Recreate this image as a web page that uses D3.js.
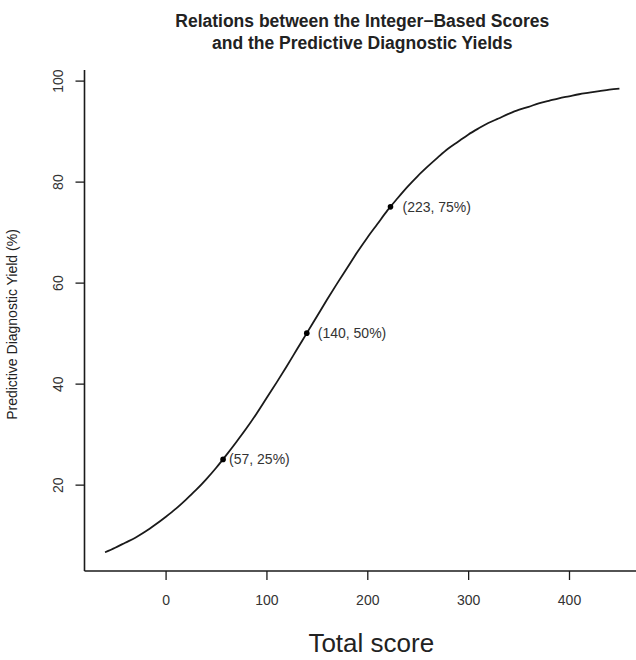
<!DOCTYPE html>
<html>
<head>
<meta charset="utf-8">
<script src="https://cdn.jsdelivr.net/npm/d3@7"></script>
<style>
  html, body { margin: 0; padding: 0; background: #fff; }
  svg { display: block; font-family: "Liberation Sans", Arial, Helvetica, sans-serif; }
</style>
</head>
<body>
<div id="chart"></div>
<script>
// ---- Data ----
const curveScores = [-60,-50,-40,-30,-20,-10,0,10,20,30,40,50,60,70,80,90,100,110,120,130,140,150,160,170,180,190,200,210,220,230,240,250,260,270,280,290,300,310,320,330,340,350,360,370,380,390,400,410,420,430,440,450];
const curveYields = [6.6,7.5,8.5,9.5,10.7,12.1,13.6,15.2,17.0,18.9,21.0,23.3,25.8,28.4,31.1,34.0,37.1,40.2,43.4,46.7,50.0,53.3,56.6,59.8,62.9,66.0,68.9,71.6,74.3,76.7,79.0,81.1,83.0,84.8,86.5,87.9,89.3,90.5,91.6,92.5,93.4,94.2,94.8,95.5,96.0,96.5,96.9,97.3,97.6,97.9,98.2,98.4];
const markScores = [57, 140, 223];
const markYields = [25, 50, 75];
const markLabels = ["(57, 25%)", "(140, 50%)", "(223, 75%)"];
const xTicks = [0, 100, 200, 300, 400];
const yTicks = [20, 40, 60, 80, 100];
const titleLines = ["Relations between the Integer\u2212Based Scores", "and the Predictive Diagnostic Yields"];
const xTitle = "Total score";
const yTitle = "Predictive Diagnostic Yield (%)";

// ---- Layout ----
const W = 636, H = 660;
const mLeft = 84.5, mRight = 640, mTop = 70, mBottom = 571;
const ink = "#1a1a1a";

const svg = d3.select("#chart").append("svg").attr("width", W).attr("height", H);

const x = d3.scaleLinear().domain([-80.4, 470.4]).range([mLeft, mRight]);
const y = d3.scaleLinear().domain([2.9, 102.1]).range([mBottom, mTop]);

// Axes (R style: left + bottom box lines)
svg.append("line").attr("x1", mLeft).attr("x2", mLeft).attr("y1", mTop).attr("y2", mBottom)
  .attr("stroke", ink).attr("stroke-width", 1.6);
svg.append("line").attr("x1", mLeft).attr("x2", W).attr("y1", mBottom).attr("y2", mBottom)
  .attr("stroke", ink).attr("stroke-width", 1.6);

const xAxis = d3.axisBottom(x).tickValues(xTicks).tickSize(9).tickPadding(15).tickFormat(d3.format("d"));
const gx = svg.append("g").attr("transform", `translate(0,${mBottom})`).call(xAxis);
gx.select(".domain").remove();
gx.selectAll(".tick line").attr("stroke", ink).attr("stroke-width", 1.3);
gx.selectAll(".tick text").attr("font-size", 14).attr("fill", "#333")
  .attr("font-family", "Liberation Sans, Arial, sans-serif");

const yAxis = d3.axisLeft(y).tickValues(yTicks).tickSize(9).tickFormat(d3.format("d"));
const gy = svg.append("g").attr("transform", `translate(${mLeft},0)`).call(yAxis);
gy.select(".domain").remove();
gy.selectAll(".tick line").attr("stroke", ink).attr("stroke-width", 1.3);
gy.selectAll(".tick text")
  .attr("font-size", 14).attr("fill", "#333")
  .attr("font-family", "Liberation Sans, Arial, sans-serif")
  .attr("x", null).attr("dy", null)
  .attr("text-anchor", "middle")
  .attr("transform", "translate(-27,0) rotate(-90)")
  .attr("dominant-baseline", "central");

// Curve
const pts = curveScores.map((s, i) => [s, curveYields[i]]);
const line = d3.line().x(d => x(d[0])).y(d => y(d[1])).curve(d3.curveMonotoneX);
svg.append("path").datum(pts).attr("d", line)
  .attr("fill", "none").attr("stroke", ink).attr("stroke-width", 1.8);

// Marked points
const labelDx = [6, 11, 12];
markScores.forEach((s, i) => {
  svg.append("circle").attr("cx", x(s)).attr("cy", y(markYields[i])).attr("r", 2.8).attr("fill", "#000");
  svg.append("text").attr("x", x(s) + labelDx[i]).attr("y", y(markYields[i]))
    .attr("dominant-baseline", "central")
    .attr("font-size", 14).attr("fill", "#333").text(markLabels[i]);
});

// Titles
const cx = (mLeft + mRight) / 2;
titleLines.forEach((t, i) => {
  svg.append("text").attr("x", cx).attr("y", 27 + i * 22)
    .attr("text-anchor", "middle").attr("font-size", 17.5).attr("font-weight", "bold")
    .attr("fill", "#222").text(t);
});

svg.append("text").attr("x", cx + 9).attr("y", 652)
  .attr("text-anchor", "middle").attr("font-size", 26).attr("fill", "#222").text(xTitle);

svg.append("text")
  .attr("transform", `translate(${17},${(mTop + mBottom) / 2 + 4}) rotate(-90)`)
  .attr("text-anchor", "middle").attr("font-size", 14).attr("fill", "#222").text(yTitle);
</script>
</body>
</html>
